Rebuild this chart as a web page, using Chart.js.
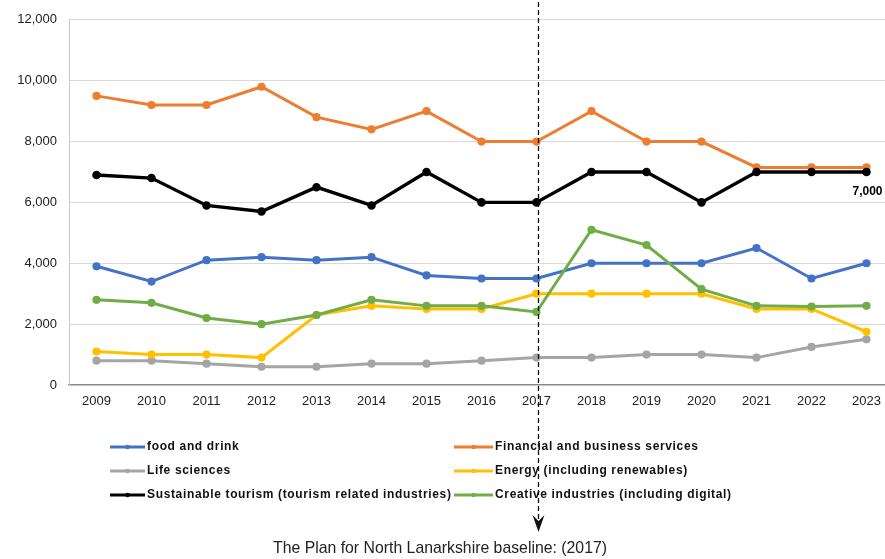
<!DOCTYPE html>
<html>
<head>
<meta charset="utf-8">
<script src="https://cdn.jsdelivr.net/npm/chart.js@4"></script>
<style>
  html, body { margin: 0; padding: 0; background: #fff; overflow: hidden; }
  #wrap { position: relative; width: 900px; height: 559px; }
</style>
</head>
<body>
<div id="wrap"><canvas id="sectorChart"></canvas></div>
<script>
const years = ['2009', '2010', '2011', '2012', '2013', '2014', '2015', '2016',
               '2017', '2018', '2019', '2020', '2021', '2022', '2023'];

const foodDrink   = [3900, 3400, 4100, 4200, 4100, 4200, 3600, 3500, 3500, 4000, 4000, 4000, 4500, 3500, 4000];
const financial   = [9500, 9200, 9200, 9800, 8800, 8400, 9000, 8000, 8000, 9000, 8000, 8000, 7150, 7150, 7150];
const lifeSci     = [800, 800, 700, 600, 600, 700, 700, 800, 900, 900, 1000, 1000, 900, 1250, 1500];
const energy      = [1100, 1000, 1000, 900, 2300, 2600, 2500, 2500, 3000, 3000, 3000, 3000, 2500, 2500, 1750];
const tourism     = [6900, 6800, 5900, 5700, 6500, 5900, 7000, 6000, 6000, 7000, 7000, 6000, 7000, 7000, 7000];
const creative    = [2800, 2700, 2200, 2000, 2300, 2800, 2600, 2600, 2400, 5100, 4600, 3150, 2600, 2580, 2600];

const yTicks = [0, 2000, 4000, 6000, 8000, 10000, 12000];
const baselineYear = '2017';
const baselineText = 'The Plan for North Lanarkshire baseline: (2017)';

const fontFace = "'Liberation Sans', Arial, sans-serif";

function series(label, data, color, order, width) {
    return {
        label: label,
        data: data,
        borderColor: color,
        backgroundColor: color,
        pointBackgroundColor: color,
        pointBorderColor: color,
        borderWidth: width || 3,
        pointRadius: 2.6,
        pointHoverRadius: 2.6,
        tension: 0,
        order: order
    };
}

const datasets = [
    series('food and drink', foodDrink, '#4472C4', 6),
    series('Financial and business services', financial, '#ED7D31', 5),
    series('Life sciences', lifeSci, '#A5A5A5', 4),
    series('Energy (including renewables)', energy, '#FFC000', 3),
    series('Sustainable tourism (tourism related industries)', tourism, '#000000', 2, 3.4),
    series('Creative industries (including digital)', creative, '#70AD47', 1)
];

// baseline marker, last-value label, legend and caption
const extras = {
    id: 'extras',
    afterDatasetsDraw(chart) {
        const ctx = chart.ctx;
        const xs = chart.scales.x, ys = chart.scales.y;

        // value label under the last tourism point
        const tIdx = tourism.length - 1;
        ctx.save();
        ctx.fillStyle = '#000';
        ctx.font = 'bold 12px ' + fontFace;
        ctx.textAlign = 'center';
        ctx.textBaseline = 'middle';
        ctx.fillText(tourism[tIdx].toLocaleString('en-GB'),
            xs.getPixelForValue(tIdx) + 1, ys.getPixelForValue(tourism[tIdx]) + 20);
        ctx.restore();

        // dashed baseline down to the caption
        const bx = xs.getPixelForValue(years.indexOf(baselineYear)) + 2;
        ctx.save();
        ctx.strokeStyle = '#111';
        ctx.lineWidth = 1.3;
        ctx.setLineDash([5, 3]);
        ctx.beginPath();
        ctx.moveTo(bx, 2);
        ctx.lineTo(bx, 520);
        ctx.stroke();
        ctx.setLineDash([]);
        ctx.fillStyle = '#111';
        ctx.beginPath();
        ctx.moveTo(bx, 532);
        ctx.lineTo(bx - 6, 515);
        ctx.lineTo(bx, 521);
        ctx.lineTo(bx + 6, 515);
        ctx.closePath();
        ctx.fill();
        ctx.restore();
    },
    afterDraw(chart) {
        const ctx = chart.ctx;
        const cols = [{ x1: 110, x2: 145 }, { x1: 454, x2: 493 }];
        const rows = [447, 471, 495];
        ctx.save();
        ctx.font = 'bold 12px ' + fontFace;
        ctx.letterSpacing = '0.65px';
        ctx.textBaseline = 'middle';
        ctx.textAlign = 'left';
        chart.data.datasets.forEach((ds, i) => {
            const c = cols[i % 2], y = rows[Math.floor(i / 2)];
            ctx.strokeStyle = ds.borderColor;
            ctx.lineWidth = 3;
            ctx.beginPath();
            ctx.moveTo(c.x1, y);
            ctx.lineTo(c.x2, y);
            ctx.stroke();
            ctx.fillStyle = ds.borderColor;
            ctx.beginPath();
            ctx.arc((c.x1 + c.x2) / 2, y, 2.2, 0, Math.PI * 2);
            ctx.fill();
            ctx.fillStyle = '#111';
            ctx.fillText(ds.label, c.x2 + 2, y);
        });
        ctx.restore();

        // caption, squeezed to a narrow face
        ctx.save();
        ctx.font = '17px ' + fontFace;
        ctx.textAlign = 'center';
        ctx.textBaseline = 'middle';
        ctx.fillStyle = '#222';
        const w = ctx.measureText(baselineText).width;
        ctx.translate(440, 548);
        ctx.scale(334 / w, 1);
        ctx.fillText(baselineText, 0, 0);
        ctx.restore();
    }
};

new Chart(document.getElementById('sectorChart'), {
    type: 'line',
    data: { labels: years, datasets: datasets },
    plugins: [extras],
    options: {
        responsive: true,
        maintainAspectRatio: false,
        animation: false,
        layout: { padding: { top: 19, right: 6, left: 0, bottom: 0 } },
        plugins: {
            legend: { display: false },
            tooltip: { enabled: false }
        },
        scales: {
            x: {
                offset: true,
                grid: { display: false, drawTicks: false },
                border: { display: true, color: '#8a8a8a', width: 1.2 },
                ticks: {
                    padding: 9,
                    color: '#222',
                    font: { family: fontFace, size: 13 },
                    maxRotation: 0,
                    autoSkip: false
                },
                afterFit(scale) { scale.height = 174; }
            },
            y: {
                min: 0,
                max: 12000,
                afterBuildTicks(scale) { scale.ticks = yTicks.map(v => ({ value: v })); },
                grid: { color: '#d9d9d9', lineWidth: 1, drawTicks: false },
                border: { display: true, color: '#c8c8c8' },
                ticks: {
                    padding: 12,
                    color: '#222',
                    font: { family: fontFace, size: 13 },
                    callback: v => v.toLocaleString('en-GB')
                },
                afterFit(scale) { scale.width = 69; }
            }
        }
    }
});
</script>
</body>
</html>
